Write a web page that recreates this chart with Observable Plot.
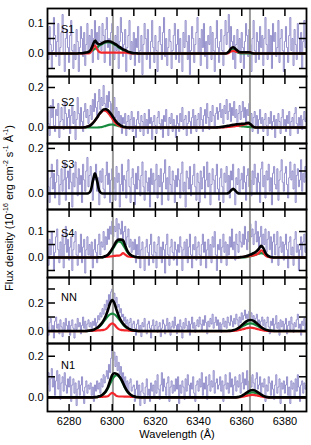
<!DOCTYPE html>
<html><head><meta charset="utf-8">
<script src="https://cdn.jsdelivr.net/npm/d3@7"></script>
<script src="https://cdn.jsdelivr.net/npm/@observablehq/plot@0.6"></script>
<style>
body{margin:0;background:#fff;}
#chart{position:relative;width:311px;height:445px;font-family:"Liberation Sans",Arial,sans-serif;background:#fff;}
#chart svg{position:absolute;left:0;}
#ylabel{position:absolute;width:260px;left:-121px;top:201px;text-align:center;font-size:11px;transform:rotate(-90deg);white-space:nowrap;line-height:14px;color:#000;}
#ylabel sup{font-size:7px;line-height:0;vertical-align:5px;}
</style></head>
<body><div id="chart"><div id="ylabel">Flux density (10<sup>-16</sup> erg cm<sup>-2</sup> s<sup>-1</sup> Å<sup>-1</sup>)</div></div>
<script>
const Z = n => Array(n).fill(0);
// wavelength grids (Å)
const wavelength = d3.range(0, 241).map(i => 6270 + i * 0.5);   // spectra, 0.5 Å pixels
const windowA = d3.range(6282, 6317);         // model around [OI] 6300
const windowB = d3.range(6346, 6377);         // model around [OI] 6364
const xTicks = d3.range(6280, 6390, 10);
const xTickLabels = [6280, 6300, 6320, 6340, 6360, 6380];
const lineCentres = [6300.3, 6363.8];
const panelNames = ["S1", "S2", "S3", "S4", "NN", "N1"];

// observed spectra (10^-16 erg cm^-2 s^-1 Å^-1), 6270..6390, one row per 10 Å
const s1Flux = [
 0.05,-0.02,0.09,0.03,-0.05,0.01,0.12,0.06,-0.01,0.04,0.10,-0.04,0.02,0.07,0.13,0.00,-0.06,0.05,0.08,0.02,
 -0.03,0.06,0.11,0.01,-0.05,0.03,-0.02,0.08,0.04,-0.06,0.02,0.09,0.05,-0.01,0.07,-0.04,0.03,0.10,0.00,0.06,
 0.02,0.08,-0.03,0.05,0.11,0.03,0.07,-0.02,0.09,0.04,0.01,0.10,0.06,-0.03,0.08,0.12,0.02,0.05,-0.04,0.07,
 0.10,0.03,-0.02,0.06,0.01,0.09,-0.05,0.04,0.12,0.07,-0.01,0.03,0.08,-0.06,0.02,0.06,0.11,-0.02,0.04,0.00,
 0.07,-0.04,0.05,0.02,0.09,-0.03,0.01,0.06,-0.07,0.03,0.10,0.05,-0.02,0.08,0.00,-0.05,0.04,0.11,0.02,-0.03,
 0.06,0.01,-0.06,0.04,0.09,0.03,-0.02,0.07,0.12,-0.01,0.05,-0.04,0.02,0.08,0.04,-0.05,0.01,0.06,0.10,-0.02,
 0.03,0.08,-0.03,0.05,0.00,-0.06,0.07,0.02,0.11,0.04,-0.02,0.06,-0.07,0.01,0.09,0.05,-0.03,0.03,0.07,0.12,
 0.00,0.05,-0.04,0.08,0.02,0.10,-0.01,0.04,-0.05,0.06,0.03,0.09,-0.02,0.07,0.01,-0.06,0.05,0.11,0.02,-0.03,
 0.04,0.08,0.01,-0.04,0.06,0.11,0.03,0.07,0.13,0.02,0.09,0.04,-0.02,0.06,-0.05,0.03,0.08,0.00,0.05,-0.03,
 0.07,0.02,-0.05,0.04,0.10,0.06,-0.01,0.08,0.03,-0.06,0.05,0.11,0.01,-0.03,0.07,0.04,-0.02,0.09,0.02,0.06,
 -0.04,0.05,0.12,0.03,-0.02,0.08,0.00,0.06,-0.05,0.10,0.04,0.07,-0.01,0.02,0.11,-0.03,0.05,0.08,0.01,-0.06,
 0.04,0.09,0.02,-0.03,0.06,0.12,0.01,0.05,-0.04,0.08,0.03,-0.02,0.10,0.05,0.00,0.07,-0.05,0.04,0.11,0.02,
 0.05];
const s2Flux = [
 0.08,0.02,-0.04,0.11,0.05,0.14,0.01,-0.02,0.09,0.06,0.12,-0.05,0.03,0.10,0.04,-0.01,0.13,0.07,0.00,0.05,
 0.09,-0.03,0.06,0.11,0.02,0.08,-0.06,0.04,0.15,0.07,0.01,0.10,0.03,-0.02,0.08,0.12,0.05,0.09,0.02,0.06,
 0.11,0.04,0.14,0.08,0.17,0.10,0.06,0.13,0.19,0.09,0.15,0.11,0.21,0.12,0.08,0.16,0.10,0.18,0.13,0.07,
 0.12,0.09,0.15,0.05,0.10,0.03,0.08,0.01,0.06,-0.03,0.05,0.02,0.07,-0.04,0.03,0.06,-0.01,0.04,0.08,-0.02,
 0.05,0.01,-0.05,0.04,0.08,0.02,-0.02,0.06,0.03,-0.04,0.07,0.00,0.04,-0.03,0.09,0.02,0.05,-0.06,0.03,0.06,
 0.01,-0.03,0.05,0.08,0.02,-0.01,0.04,-0.05,0.06,0.03,0.09,0.00,-0.04,0.05,0.02,0.07,-0.02,0.04,0.01,-0.05,
 0.06,0.02,-0.02,0.07,0.03,0.10,-0.01,0.04,0.06,-0.04,0.02,0.08,0.03,-0.03,0.05,0.09,0.00,0.06,-0.02,0.04,
 0.07,0.01,0.10,0.04,-0.02,0.06,0.09,0.02,0.12,0.05,-0.01,0.08,0.03,0.11,0.06,0.00,0.07,0.10,0.04,0.08,
 0.12,0.05,0.09,0.02,0.11,0.07,0.14,0.04,0.08,0.12,0.03,0.10,0.06,0.13,0.05,0.09,0.01,0.07,0.11,0.04,
 0.08,0.13,0.05,0.10,0.02,0.09,0.06,0.12,0.03,0.07,-0.02,0.05,0.08,0.01,0.06,-0.03,0.04,0.09,0.02,0.05,
 -0.02,0.04,0.07,0.01,-0.04,0.05,0.02,0.08,-0.01,0.03,0.06,-0.05,0.04,0.00,0.07,0.03,-0.03,0.05,0.09,0.01,
 0.04,-0.02,0.06,0.02,0.08,-0.04,0.03,0.05,0.00,0.07,0.10,0.02,-0.03,0.05,0.01,0.06,-0.01,0.04,0.08,0.03,
 0.05];
const s3Flux = [
 0.10,0.03,-0.04,0.07,0.13,0.02,0.09,-0.02,0.05,0.15,0.08,-0.05,0.04,0.11,0.01,0.06,0.14,-0.03,0.07,0.10,
 0.02,0.12,0.05,-0.06,0.09,0.03,0.14,0.07,-0.01,0.11,0.04,0.08,-0.04,0.13,0.06,0.01,0.10,0.16,0.03,0.08,
 0.12,0.04,-0.03,0.09,0.06,0.13,0.01,0.07,-0.05,0.10,0.05,0.11,0.02,-0.02,0.08,0.14,0.04,0.09,-0.04,0.06,
 0.11,0.02,0.07,-0.03,0.12,0.05,0.09,-0.06,0.04,0.13,0.01,0.08,0.06,-0.02,0.10,0.15,0.03,-0.04,0.07,0.11,
 0.04,-0.05,0.09,0.02,0.12,0.06,-0.01,0.08,0.14,0.03,-0.03,0.10,0.05,0.01,0.07,-0.06,0.11,0.04,0.09,0.00,
 0.06,0.13,-0.02,0.08,0.03,0.11,-0.05,0.05,0.09,0.15,0.02,0.07,-0.03,0.12,0.04,0.00,0.10,0.06,-0.04,0.08,
 0.03,0.11,0.06,-0.02,0.09,0.14,0.01,0.05,-0.06,0.10,0.07,0.02,0.12,-0.01,0.04,0.08,0.13,0.03,-0.03,0.09,
 0.05,-0.04,0.10,0.02,0.07,0.12,-0.02,0.06,0.14,0.03,0.09,-0.05,0.04,0.11,0.06,0.00,0.08,0.13,0.02,-0.03,
 0.07,0.11,0.03,-0.04,0.09,0.05,0.12,0.01,0.08,-0.02,0.10,0.06,0.13,0.02,-0.05,0.07,0.04,0.11,0.00,0.06,
 0.09,0.02,0.12,0.05,-0.03,0.08,0.11,0.03,0.06,-0.01,0.10,0.04,0.13,0.07,0.00,0.09,0.05,-0.04,0.11,0.14,
 0.03,0.08,-0.02,0.10,0.06,0.13,0.01,0.07,-0.05,0.09,0.12,0.04,0.02,0.11,-0.03,0.06,0.10,0.15,0.05,0.01,
 0.09,0.12,0.04,-0.02,0.07,0.14,0.06,0.10,0.02,0.13,-0.04,0.08,0.11,0.03,0.06,0.15,0.01,0.09,0.05,0.12,
 0.07];
const s4Flux = [
 0.04,-0.03,0.07,0.01,0.10,0.05,-0.05,0.02,0.08,0.11,0.03,-0.02,0.06,0.00,0.09,-0.04,0.05,0.12,0.02,0.07,
 -0.01,0.04,0.08,-0.05,0.03,0.06,0.10,0.01,-0.03,0.05,0.02,0.09,-0.02,0.04,0.07,-0.06,0.03,0.08,0.01,0.05,
 0.00,0.06,-0.04,0.03,0.07,0.02,-0.02,0.05,0.09,0.01,0.06,0.04,0.10,0.03,0.08,0.05,0.11,0.07,0.12,0.09,
 0.14,0.08,0.12,0.10,0.15,0.07,0.13,0.11,0.09,0.14,0.06,0.10,0.12,0.05,0.08,0.11,0.04,0.07,0.02,0.06,
 0.03,0.07,-0.02,0.05,0.01,0.08,-0.04,0.03,0.06,0.00,-0.05,0.04,0.07,0.02,-0.03,0.05,0.09,0.01,-0.02,0.06,
 0.02,-0.04,0.05,0.08,0.00,0.04,-0.02,0.06,0.03,-0.06,0.05,0.09,0.01,-0.03,0.04,0.07,0.02,-0.01,0.06,0.03,
 -0.03,0.05,0.02,0.08,0.04,-0.05,0.03,0.06,0.00,0.07,-0.02,0.04,0.09,0.01,-0.04,0.05,0.03,0.08,-0.01,0.04,
 0.06,0.01,-0.03,0.05,0.09,0.02,0.06,-0.04,0.03,0.07,0.00,0.05,-0.02,0.08,0.04,0.10,0.01,-0.05,0.05,0.03,
 0.07,-0.02,0.04,0.09,0.02,0.06,-0.03,0.05,0.01,0.08,0.04,0.11,0.03,0.06,-0.01,0.09,0.05,0.02,0.10,0.06,
 0.04,0.09,0.05,0.12,0.07,0.03,0.10,0.06,0.13,0.08,0.11,0.05,0.09,0.14,0.06,0.10,0.03,0.08,0.12,0.04,
 0.09,0.05,0.11,0.02,0.07,0.10,0.03,0.08,-0.02,0.06,0.09,0.01,0.05,0.10,-0.03,0.04,0.08,0.02,0.06,-0.01,
 0.05,0.09,0.03,-0.04,0.06,0.08,0.01,0.04,-0.03,0.07,0.10,0.02,0.05,-0.05,0.03,0.08,0.00,0.06,0.09,0.02,
 0.04];
const nnFlux = [
 0.03,-0.03,0.06,0.09,0.01,0.04,-0.05,0.07,0.10,0.02,0.05,-0.02,0.08,0.03,-0.04,0.06,0.01,0.09,0.04,0.00,
 0.07,-0.03,0.04,0.08,0.02,-0.05,0.05,0.01,0.09,0.03,0.06,-0.02,0.04,0.10,0.02,0.07,0.00,0.05,0.08,0.03,
 0.06,0.01,0.07,0.04,0.09,0.03,0.06,0.11,0.08,0.13,0.10,0.16,0.12,0.19,0.15,0.22,0.18,0.26,0.21,0.28,
 0.30,0.23,0.27,0.20,0.24,0.17,0.19,0.13,0.16,0.10,0.12,0.07,0.10,0.05,0.08,0.03,0.06,0.09,0.01,0.05,
 0.07,0.02,-0.03,0.05,0.08,0.01,0.04,-0.04,0.06,0.03,0.09,0.00,-0.02,0.05,0.07,0.02,-0.05,0.04,0.08,0.01,
 0.04,0.07,-0.01,0.03,0.06,-0.04,0.02,0.08,0.05,-0.02,0.04,0.09,0.01,0.06,-0.03,0.03,0.07,0.02,0.10,0.04,
 -0.02,0.05,0.01,0.08,0.03,-0.05,0.06,0.02,0.09,0.04,0.00,0.07,-0.03,0.05,0.10,0.02,0.06,-0.01,0.04,0.08,
 0.03,0.10,0.05,0.01,0.08,0.04,0.11,0.06,-0.02,0.07,0.03,0.09,0.05,0.12,0.02,0.06,0.10,0.04,0.08,0.01,
 0.06,-0.01,0.05,0.09,0.03,0.07,0.02,0.10,0.06,0.04,0.11,0.07,0.03,0.09,0.05,0.12,0.08,0.04,0.10,0.06,
 0.13,0.08,0.11,0.15,0.09,0.12,0.07,0.14,0.10,0.13,0.08,0.11,0.06,0.09,0.12,0.05,0.08,0.03,0.07,0.10,
 0.04,0.08,0.01,0.06,0.10,0.03,-0.02,0.07,0.04,0.09,0.00,0.05,0.11,0.02,0.06,-0.03,0.08,0.03,0.07,0.01,
 0.05,0.09,-0.02,0.04,0.07,0.01,0.10,0.05,-0.01,0.06,0.03,0.08,0.12,0.02,0.05,-0.03,0.07,0.04,0.09,0.01,
 0.06];
const n1Flux = [
 0.06,0.12,0.03,0.09,0.14,0.05,0.10,0.01,0.08,0.13,0.04,0.11,-0.01,0.07,0.10,0.03,0.12,0.06,0.02,0.09,
 0.05,0.10,-0.02,0.06,0.09,0.02,0.07,-0.04,0.04,0.08,0.01,0.06,0.10,0.03,-0.03,0.05,0.08,0.02,0.06,0.04,
 0.07,0.01,0.05,-0.02,0.06,0.03,0.08,0.04,0.07,0.02,0.09,0.05,0.11,0.07,0.10,0.13,0.09,0.16,0.12,0.19,
 0.25,0.18,0.22,0.15,0.20,0.13,0.17,0.11,0.15,0.08,0.12,0.06,0.10,0.04,0.08,0.02,0.07,0.09,0.03,0.05,
 0.06,-0.02,0.04,0.08,0.01,0.06,-0.04,0.03,0.07,0.02,-0.03,0.05,0.09,0.01,0.04,-0.02,0.07,0.03,0.06,0.00,
 0.08,0.02,0.11,0.04,-0.01,0.06,0.12,0.03,0.09,0.05,0.01,0.07,0.10,-0.02,0.05,0.08,0.02,0.06,0.03,0.09,
 0.04,0.10,-0.03,0.06,0.02,0.08,0.05,-0.01,0.09,0.03,0.11,0.06,0.00,0.07,0.04,0.10,0.02,-0.02,0.06,0.08,
 0.03,0.09,0.05,0.12,0.01,0.07,0.04,0.10,-0.01,0.06,0.11,0.03,0.08,0.05,0.13,0.02,0.07,0.09,0.04,0.06,
 0.10,0.03,0.08,-0.02,0.06,0.11,0.04,0.07,0.02,0.12,0.05,0.09,0.01,0.06,0.10,0.03,0.08,0.05,0.11,0.02,
 0.07,0.12,0.04,0.09,0.06,0.13,0.03,0.08,0.10,0.05,0.11,0.07,0.02,0.09,0.12,0.04,0.06,0.10,0.01,0.07,
 0.05,0.09,-0.02,0.06,0.03,0.10,0.07,0.01,0.08,0.04,-0.01,0.06,0.11,0.02,0.05,0.09,-0.03,0.07,0.04,0.08,
 0.02,0.06,0.10,0.01,0.05,-0.03,0.08,0.04,0.07,0.00,0.09,0.03,0.11,0.05,-0.02,0.06,0.08,0.02,0.07,0.04,
 0.06];

// fitted models: total (black), components (red, green); A = 6282..6316, B = 6346..6376
const s1BlackA = [...Z(3),0.001,0.001,0.002,0.003,0.005,0.012,0.028,0.043,0.034,0.031,0.033,0.037,0.040,0.041,0.040,0.037,0.033,0.029,0.023,0.019,0.014,0.011,0.007,0.004,0.002,0.001,0.001,...Z(5)];
const s1RedA   = [...Z(8),0.004,0.017,0.027,0.014,0.005,0.003,0.003,0.003,0.003,0.003,0.003,0.003,0.003,0.003,0.003,0.003,0.003,0.002,0.001,...Z(8)];
const s1GreenA = [...Z(3),0.001,0.001,0.002,0.003,0.005,0.008,0.011,0.016,0.020,0.026,0.030,0.034,0.037,0.038,0.037,0.034,0.030,0.026,0.020,0.016,0.011,0.008,0.005,0.003,0.002,0.001,0.001,...Z(5)];
const s1BlackB = [...Z(7),0.001,0.006,0.017,0.021,0.016,0.009,0.005,0.004,0.004,0.004,0.004,0.003,0.001,...Z(11)];
const s1RedB   = [...Z(8),0.002,0.007,0.009,0.007,0.005,0.004,0.004,0.004,0.004,0.004,0.003,0.001,...Z(11)];
const s1GreenB = [...Z(7),0.001,0.004,0.010,0.012,0.009,0.004,0.001,...Z(17)];

const s2BlackA = [...Z(5),0.001,0.003,0.006,0.012,0.022,0.035,0.050,0.067,0.080,0.090,0.091,0.086,0.074,0.059,0.042,0.027,0.017,0.009,0.004,0.002,...Z(10)];
const s2RedA   = [...Z(5),0.001,0.003,0.006,0.012,0.022,0.035,0.050,0.066,0.078,0.085,0.083,0.074,0.060,0.044,0.029,0.017,0.010,0.005,0.002,0.001,...Z(10)];
const s2GreenA = [...Z(12),0.001,0.002,0.005,0.008,0.012,0.014,0.015,0.013,0.010,0.007,0.004,0.002,0.001,...Z(10)];
const s2BlackB = [...Z(3),0.001,0.002,0.003,0.005,0.007,0.009,0.011,0.013,0.015,0.016,0.017,0.018,0.019,0.021,0.023,0.017,0.006,0.001,...Z(10)];
const s2RedB   = [...Z(6),0.001,0.002,0.003,0.004,0.005,0.007,0.008,0.010,0.012,0.014,0.017,0.020,0.015,0.005,0.001,...Z(10)];
const s2GreenB = [...Z(3),0.001,0.002,0.003,0.004,0.005,0.006,0.007,0.008,0.008,0.008,0.007,0.006,0.005,0.004,0.003,0.002,0.001,...Z(11)];

const s3BlackA = [...Z(7),0.001,0.012,0.055,0.090,0.055,0.012,0.001,...Z(21)];
const s3BlackB = [...Z(8),0.003,0.013,0.021,0.013,0.003,...Z(18)];

const s4BlackA = [...Z(12),0.001,0.001,0.003,0.006,0.011,0.021,0.034,0.049,0.063,0.069,0.069,0.066,0.046,0.026,0.014,0.007,0.004,0.002,0.001,...Z(4)];
const s4RedA   = [...Z(12),0.001,0.001,0.002,0.002,0.003,0.004,0.005,0.006,0.007,0.007,0.010,0.017,0.011,0.005,0.003,0.002,0.002,0.001,0.001,...Z(4)];
const s4GreenA = [...Z(14),0.001,0.004,0.008,0.017,0.029,0.043,0.056,0.062,0.059,0.049,0.035,0.021,0.011,0.005,0.002,0.001,...Z(5)];
const s4BlackB = [...Z(13),0.001,0.002,0.003,0.005,0.008,0.011,0.015,0.019,0.025,0.034,0.045,0.036,0.018,0.008,0.003,0.001,...Z(2)];
const s4RedB   = [...Z(13),0.001,0.002,0.003,0.004,0.005,0.006,0.008,0.009,0.012,0.019,0.028,0.021,0.008,0.003,0.001,0,...Z(2)];
const s4GreenB = [...Z(13),0,0,0,0.001,0.003,0.005,0.007,0.010,0.013,0.015,0.017,0.015,0.010,0.005,0.002,0.001,...Z(2)];

const nnBlackA = [...Z(7),0.002,0.004,0.007,0.014,0.023,0.036,0.053,0.076,0.108,0.150,0.199,0.221,0.199,0.150,0.108,0.076,0.053,0.036,0.023,0.014,0.007,0.004,0.002,...Z(5)];
const nnRedA   = [...Z(7),0.001,0.001,0.002,0.003,0.004,0.005,0.006,0.008,0.014,0.027,0.046,0.055,0.046,0.027,0.014,0.008,0.006,0.005,0.004,0.003,0.002,0.001,0.001,...Z(5)];
const nnGreenA = [...Z(7),0.001,0.003,0.005,0.011,0.019,0.031,0.047,0.067,0.088,0.106,0.119,0.124,0.119,0.106,0.088,0.067,0.047,0.031,0.019,0.011,0.005,0.003,0.001,...Z(5)];
const nnBlackB = [...Z(8),0.001,0.002,0.006,0.010,0.018,0.028,0.041,0.054,0.067,0.076,0.079,0.076,0.067,0.054,0.041,0.028,0.018,0.010,0.006,0.002,0.001,...Z(2)];
const nnRedB   = [...Z(8),0,0,0.001,0.002,0.004,0.007,0.011,0.015,0.020,0.023,0.024,0.023,0.020,0.015,0.011,0.007,0.004,0.002,0.001,0,0,...Z(2)];
const nnGreenB = [...Z(8),0.001,0.002,0.005,0.008,0.014,0.021,0.030,0.039,0.047,0.053,0.055,0.053,0.047,0.039,0.030,0.021,0.014,0.008,0.005,0.002,0.001,...Z(2)];

const n1BlackA = [...Z(10),0.001,0.002,0.005,0.009,0.018,0.030,0.049,0.081,0.109,0.117,0.114,0.106,0.091,0.070,0.047,0.030,0.018,0.009,0.005,0.002,0.001,...Z(4)];
const n1RedA   = [...Z(10),0.001,0.001,0.002,0.002,0.003,0.003,0.005,0.015,0.022,0.015,0.006,0.004,0.004,0.004,0.003,0.003,0.003,0.002,0.002,0.001,0.001,...Z(4)];
const n1GreenA = [...Z(10),0,0.001,0.003,0.007,0.015,0.027,0.044,0.066,0.087,0.102,0.108,0.102,0.087,0.066,0.044,0.027,0.015,0.007,0.003,0.001,0,...Z(4)];
const n1BlackB = [...Z(12),0.001,0.003,0.007,0.013,0.021,0.028,0.034,0.036,0.034,0.028,0.021,0.013,0.007,0.003,0.001,...Z(4)];
const n1RedB   = [...Z(12),0,0.001,0.002,0.004,0.007,0.009,0.011,0.012,0.011,0.009,0.007,0.004,0.002,0.001,0,...Z(4)];
const n1GreenB = [...Z(12),0.001,0.002,0.005,0.009,0.014,0.019,0.023,0.024,0.023,0.019,0.014,0.009,0.005,0.002,0.001,...Z(4)];

// y-axis setup per panel
const yDomains = [[-0.0767,0.15],[-0.08,0.255],[-0.071,0.222],[-0.077,0.185],[-0.089,0.382],[-0.069,0.262]];
const yTicks = [[-0.05,0,0.05,0.1],[0,0.1,0.2],[0,0.1,0.2],[-0.05,0,0.05,0.1],[0,0.1,0.2,0.3],[0,0.1,0.2]];
const yTickLabels = [[0,0.1],[0,0.2],[0,0.2],[0,0.1],[0,0.2],[0,0.2]];

const fluxes = [s1Flux, s2Flux, s3Flux, s4Flux, nnFlux, n1Flux];
const blacks = [[s1BlackA,s1BlackB],[s2BlackA,s2BlackB],[s3BlackA,s3BlackB],[s4BlackA,s4BlackB],[nnBlackA,nnBlackB],[n1BlackA,n1BlackB]];
const reds = [[s1RedA,s1RedB],[s2RedA,s2RedB],null,[s4RedA,s4RedB],[nnRedA,nnRedB],[n1RedA,n1RedB]];
const greens = [[s1GreenA,s1GreenB],[s2GreenA,s2GreenB],null,[s4GreenA,s4GreenB],[nnGreenA,nnGreenB],[n1GreenA,n1GreenB]];

function model([a, b]) {
  return [{x: 6270, y: 0},
    ...windowA.map((x, i) => ({x, y: a[i]})),
    ...windowB.map((x, i) => ({x, y: b[i]})),
    {x: 6390, y: 0}];
}

// layout (px)
const tops = [8, 76, 143, 209, 277, 343, 411];
const labelDy = [17, 22, 17, 20, 16, 18];
const pad = 4, bottomExtra = 30;
const RED = "#f2262b", GREEN = "#178a3e", NOISE = "#8a85c6";

const chart = document.getElementById("chart");
panelNames.forEach((name, i) => {
  const last = i === panelNames.length - 1;
  const h = tops[i + 1] - tops[i];
  const mb = pad + (last ? bottomExtra : 0);
  const noise = wavelength.map((x, j) => ({x, y: fluxes[i][j]})).filter(d => d.y !== undefined);
  const marks = [
    Plot.line(noise, {x: "x", y: "y", curve: "step", stroke: NOISE, strokeWidth: 1, strokeOpacity: 0.9, clip: true}),
    Plot.ruleX(lineCentres, {stroke: "#9a9a9a", strokeWidth: 2}),
  ];
  if (greens[i]) marks.push(Plot.line(model(greens[i]), {x: "x", y: "y", curve: "monotone-x", stroke: GREEN, strokeWidth: 2.2, clip: true}));
  if (reds[i]) marks.push(Plot.line(model(reds[i]), {x: "x", y: "y", curve: "monotone-x", stroke: RED, strokeWidth: 2.2, clip: true}));
  marks.push(Plot.line(model(blacks[i]), {x: "x", y: "y", curve: "monotone-x", stroke: "black", strokeWidth: 2.6, clip: true}));
  marks.push(
    Plot.axisX({anchor: "bottom", ticks: xTicks, tickSize: -7, fill: "none", label: null, strokeWidth: 1.5}),
    Plot.axisX({anchor: "top", ticks: xTicks, tickSize: -7, fill: "none", label: null, strokeWidth: 1.5}),
    Plot.axisY({anchor: "left", ticks: yTicks[i], tickSize: -8, fill: "none", label: null, strokeWidth: 1.5}),
    Plot.axisY({anchor: "right", ticks: yTicks[i], tickSize: -8, fill: "none", label: null, strokeWidth: 1.5}),
    Plot.axisY({anchor: "left", ticks: yTickLabels[i], tickSize: 0, tickPadding: 4, tickFormat: ".1f", label: null, fill: "black"}),
    Plot.frame({stroke: "black", strokeWidth: 1.8}),
    Plot.text([name], {text: d => d, frameAnchor: "top-left", dx: 13.5, dy: labelDy[i], textAnchor: "start", fontSize: 11, fill: "black"})
  );
  if (last) {
    marks.push(
      Plot.axisX({anchor: "bottom", ticks: xTickLabels, tickSize: 0, tickPadding: 6, tickFormat: d => String(d), label: null, fill: "black"}),
      Plot.text(["Wavelength (Å)"], {text: d => d, frameAnchor: "bottom", dy: 26, fontSize: 11, fill: "black"})
    );
  }
  const svg = Plot.plot({
    width: 311, height: h + pad + mb,
    marginLeft: 47, marginRight: 5, marginTop: pad, marginBottom: mb,
    x: {domain: [6270, 6390], label: null},
    y: {domain: yDomains[i], label: null},
    style: {background: "transparent", overflow: "visible", fontFamily: "'Liberation Sans', Arial, sans-serif", fontSize: "11px", color: "black"},
    marks
  });
  svg.style.top = (tops[i] - pad) + "px";
  chart.appendChild(svg);
});
</script>
</body></html>
